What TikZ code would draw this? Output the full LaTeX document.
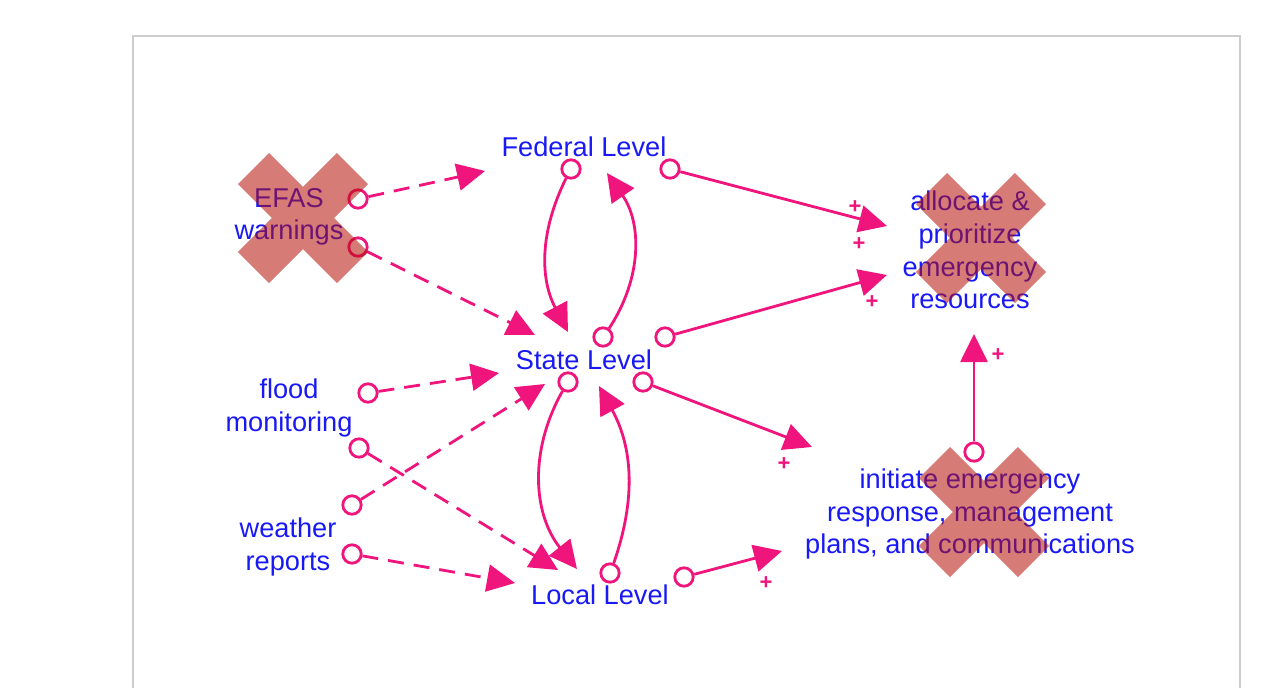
\documentclass[tikz,border=0pt]{standalone}
\usepackage{fontspec}
\setmainfont{Liberation Sans}
\usetikzlibrary{arrows.meta}
\definecolor{LinkPink}{RGB}{240,20,125}
\definecolor{LabelBlue}{RGB}{25,25,245}
\definecolor{CrossRed}{RGB}{180,15,5}
\definecolor{FrameGrey}{RGB}{205,205,205}

\begin{document}
\begin{tikzpicture}[
  x=0.5pt, y=-0.5pt,
  font=\fontsize{13.6}{16.3}\selectfont,
  var/.style={text=LabelBlue, align=center, inner sep=0pt},
  tail/.style={circle, draw=LinkPink, fill=white, line width=1.4pt, minimum size=9.2pt, inner sep=0pt},
  link/.style={draw=LinkPink, line width=1.4pt, -{Triangle[length=14pt,width=13.5pt]}},
  dlink/.style={link, dash pattern=on 8pt off 5pt},
  pol/.style={text=LinkPink, font=\fontsize{11}{11}\selectfont\bfseries, inner sep=0pt},
  cross/.style={draw=CrossRed, line width=22pt, opacity=0.55},
]
\useasboundingbox (0,0) rectangle (1282,687);
% Frame
\draw[FrameGrey, line width=1pt] (133,720) -- (133,36) -- (1240,36) -- (1240,720);

% Variables
\node[var] (efas)     at (289,217) {EFAS\\warnings};
\node[var] (federal)  at (584,147) {Federal Level};
\node[var] (state)    at (584,360) {State Level};
\node[var] (local)    at (600,595) {Local Level};
\node[var] (flood)    at (289,408) {flood\\monitoring};
\node[var] (weather)  at (288,547) {weather\\reports};
\node[var] (allocate) at (970,250) {allocate \&\\prioritize\\emergency\\resources};
\node[var] (initiate) at (970,514) {initiate emergency\\response, management\\plans, and communications};

% Arrow ends
\coordinate (fedInE)   at (485,171);
\coordinate (fedInS)   at (607,173);
\coordinate (stInE)    at (535,335);
\coordinate (stInF)    at (568,332);
\coordinate (stInFl)   at (499,373);
\coordinate (stInW)    at (545,384);
\coordinate (stInL)    at (599,386);
\coordinate (locInFl)  at (558,570);
\coordinate (locInW)   at (515,583);
\coordinate (locInS)   at (577,569);
\coordinate (allocInF) at (887,226);
\coordinate (allocInS) at (887,275);
\coordinate (allocInI) at (974,334);
\coordinate (initInS)  at (812,447);
\coordinate (initInL)  at (782,551);

% Dashed links from the information sources
\node[tail] (efasF)  at (358,199) {};
\node[tail] (efasS)  at (358,247) {};
\node[tail] (floodS) at (368,393) {};
\node[tail] (floodL) at (359,448) {};
\node[tail] (weathS) at (352,505) {};
\node[tail] (weathL) at (352,554) {};
\draw[dlink] (efasF)  -- (fedInE);
\draw[dlink] (efasS)  -- (stInE);
\draw[dlink] (floodS) -- (stInFl);
\draw[dlink] (floodL) -- (locInFl);
\draw[dlink] (weathS) -- (stInW);
\draw[dlink] (weathL) -- (locInW);

% Links between the levels
\node[tail] (fedS) at (571,169) {};
\node[tail] (stF)  at (603,337) {};
\node[tail] (stL)  at (568,382) {};
\node[tail] (locS) at (610,573) {};
\draw[link] (fedS) to[bend right=27] (stInF);
\draw[link] (stF)  to[bend right=34] (fedInS);
\draw[link] (stL)  to[bend right=34] (locInS);
\draw[link] (locS) to[bend right=24] (stInL);

% Links to the responses
\node[tail] (fedA)  at (670,169) {};
\node[tail] (stA)   at (665,337) {};
\node[tail] (stI)   at (643,382) {};
\node[tail] (locI)  at (684,577) {};
\node[tail] (initA) at (974,452) {};
\draw[link] (fedA)  -- (allocInF);
\draw[link] (stA)   -- (allocInS);
\draw[link] (stI)   -- (initInS);
\draw[link] (locI)  -- (initInL);
\draw[link] (initA) -- (allocInI);

% Polarities
\node[pol] (p1) at (855,207) {+};
\node[pol] (p2) at (859,244) {+};
\node[pol] (p3) at (872,302) {+};
\node[pol] (p4) at (784,464) {+};
\node[pol] (p5) at (998,355) {+};
\node[pol] (p6) at (766,583) {+};

% Crossed-out variables
\draw[cross] (253.5,168.5) -- (352.5,267.5) (352.5,168.5) -- (253.5,267.5);
\draw[cross] (931.5,188.5) -- (1030.5,287.5) (1030.5,188.5) -- (931.5,287.5);
\draw[cross] (934.5,462.5) -- (1033.5,561.5) (1033.5,462.5) -- (934.5,561.5);
\end{tikzpicture}
\end{document}
